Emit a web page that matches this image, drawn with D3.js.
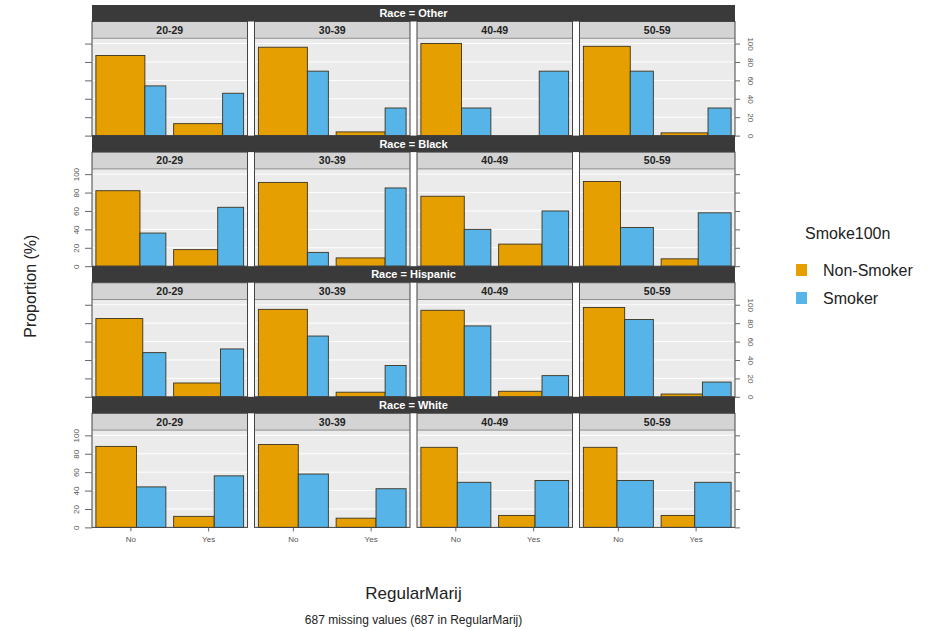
<!DOCTYPE html>
<html><head><meta charset="utf-8">
<script src="https://cdn.jsdelivr.net/npm/d3@7"></script>
<style>body{margin:0;background:#fff}svg{display:block}</style>
</head><body>
<script>
// ---- data ----
const races = ["Other", "Black", "Hispanic", "White"];
const ages = ["20-29", "30-39", "40-49", "50-59"];
const marij = ["No", "Yes"];
const smokeGroups = ["Non-Smoker", "Smoker"];
// proportion (%) of each smoke group answering No / Yes, per race (rows) x age (cols)
const nonSmokerNo  = [[87, 96, 100, 97], [82, 91, 76, 92], [85, 95, 94, 97], [88, 90, 87, 87]];
const nonSmokerYes = [[13, 4, 0, 3],     [18, 9, 24, 8],   [15, 5, 6, 3],    [12, 10, 13, 13]];
const smokerNo     = [[54, 70, 30, 70],  [36, 15, 40, 42], [48, 66, 77, 84], [44, 58, 49, 51]];
const smokerYes    = [[46, 30, 70, 30],  [64, 85, 60, 58], [52, 34, 23, 16], [56, 42, 51, 49]];
// relative share of the Non-Smoker group in each panel (drives bar width)
const nonSmokerShare = [[0.70, 0.70, 0.58, 0.67], [0.63, 0.70, 0.62, 0.53], [0.67, 0.70, 0.62, 0.59], [0.58, 0.57, 0.52, 0.48]];
const yTicks = [0, 20, 40, 60, 80, 100];
const colors = ["#E69F00", "#56B4E9"];

// ---- layout ----
const W = 950, H = 631;
const FONT = "Arial, 'Liberation Sans', sans-serif";
const svg = d3.select("body").append("svg").attr("width", W).attr("height", H)
  .style("font-family", FONT);

const left = 92, right = 735, top0 = 5, rowH = 130.6, darkH = 16.5, grayH = 16.8;
const plotH = rowH - darkH - grayH;

const colScale = d3.scaleBand().domain(ages).range([left, right]).paddingInner(0.043);
const rowScale = d3.scaleBand().domain(races).range([top0, top0 + rowH * races.length]);
const xInner = d3.scaleBand().domain(marij).range([0, colScale.bandwidth()]).paddingInner(0.1).paddingOuter(0.05);
const y = d3.scaleLinear().domain([0, 105.7]).range([plotH, 0]);

races.forEach((race, ri) => {
  const rowTop = rowScale(race);
  const g = svg.append("g").attr("transform", `translate(0,${rowTop})`);
  // dark race strip
  g.append("rect").attr("x", left).attr("y", 0).attr("width", right - left).attr("height", darkH)
    .attr("fill", "#3a3a3a");
  g.append("text").attr("x", (left + right) / 2).attr("y", darkH / 2 + 4)
    .attr("text-anchor", "middle").attr("fill", "#fff").attr("font-weight", "bold")
    .attr("font-size", 11).text(`Race = ${race}`);

  ages.forEach((age, ci) => {
    const px = colScale(age), pw = colScale.bandwidth();
    const pg = g.append("g").attr("transform", `translate(${px},${darkH})`);
    // grey age strip
    pg.append("rect").attr("x", 0).attr("y", 0).attr("width", pw).attr("height", grayH)
      .attr("fill", "#d4d4d4");
    pg.append("text").attr("x", pw / 2).attr("y", grayH / 2 + 4).attr("text-anchor", "middle")
      .attr("font-weight", "bold").attr("font-size", 10.5).attr("fill", "#222").text(age);
    // plot area
    const plot = pg.append("g").attr("transform", `translate(0,${grayH})`);
    plot.append("rect").attr("width", pw).attr("height", plotH).attr("fill", "#ebebeb");
    plot.selectAll("line.grid").data(yTicks).join("line").attr("class", "grid")
      .attr("x1", 0).attr("x2", pw).attr("y1", d => y(d)).attr("y2", d => y(d))
      .attr("stroke", "#fff").attr("stroke-width", 1);

    const share = nonSmokerShare[ri][ci];
    const vals = {
      "No": [nonSmokerNo[ri][ci], smokerNo[ri][ci]],
      "Yes": [nonSmokerYes[ri][ci], smokerYes[ri][ci]]
    };
    const bars = [];
    marij.forEach(m => {
      const bx = xInner(m), bw = xInner.bandwidth();
      const wNS = bw * share, wS = bw - wNS;
      bars.push({x: bx, w: wNS, v: vals[m][0], c: colors[0]});
      bars.push({x: bx + wNS, w: wS, v: vals[m][1], c: colors[1]});
    });
    plot.selectAll("rect.bar").data(bars.filter(b => b.v > 0)).join("rect").attr("class", "bar")
      .attr("x", d => d.x).attr("width", d => d.w)
      .attr("y", d => y(d.v)).attr("height", d => y(0) - y(d.v))
      .attr("fill", d => d.c).attr("stroke", "#3b3320").attr("stroke-width", 0.9);

    // panel border
    pg.append("rect").attr("x", 0).attr("y", 0).attr("width", pw).attr("height", grayH + plotH)
      .attr("fill", "none").attr("stroke", "#444").attr("stroke-width", 1);
    pg.append("line").attr("x1", 0).attr("x2", pw).attr("y1", grayH).attr("y2", grayH)
      .attr("stroke", "#777").attr("stroke-width", 0.8);

    // bottom x axis on last row
    if (ri === races.length - 1) {
      const ax = plot.append("g").attr("transform", `translate(0,${plotH})`)
        .call(d3.axisBottom(xInner).tickSize(4).tickPadding(5));
      ax.select(".domain").remove();
      ax.selectAll("line").attr("stroke", "#666");
      ax.selectAll("text").attr("font-size", 8).attr("fill", "#555").attr("font-family", FONT);
    }
  });

  // y axes: labelled side alternates between rows
  const labelLeft = (ri % 2 === 1);
  const ay = g.append("g").attr("transform", `translate(0,${darkH + grayH})`);
  const leftAx = ay.append("g").attr("transform", `translate(${left},0)`)
    .call(d3.axisLeft(y).tickValues(yTicks).tickSize(7).tickFormat(labelLeft ? d3.format("d") : () => ""));
  const rightAx = ay.append("g").attr("transform", `translate(${right},0)`)
    .call(d3.axisRight(y).tickValues(yTicks).tickSize(5).tickFormat(labelLeft ? () => "" : d3.format("d")));
  [leftAx, rightAx].forEach(a => {
    a.select(".domain").remove();
    a.selectAll("line").attr("stroke", "#666");
  });
  leftAx.selectAll(".tick text").attr("font-size", 8).attr("fill", "#555").attr("font-family", FONT)
    .attr("text-anchor", "middle").attr("dy", "0").attr("x", null)
    .attr("transform", "translate(-13,0) rotate(-90)").attr("y", 0);
  rightAx.selectAll(".tick text").attr("font-size", 8).attr("fill", "#555").attr("font-family", FONT)
    .attr("text-anchor", "middle").attr("dy", "0").attr("x", null)
    .attr("transform", "translate(13,0) rotate(90)").attr("y", 0);
});

// axis titles
svg.append("text").attr("transform", `translate(36,${(top0 + top0 + rowH * 4) / 2 + 20}) rotate(-90)`)
  .attr("text-anchor", "middle").attr("font-size", 16).attr("fill", "#222").text("Proportion (%)");
svg.append("text").attr("x", (left + right) / 2).attr("y", 599).attr("text-anchor", "middle")
  .attr("font-size", 17).attr("fill", "#222").text("RegularMarij");
svg.append("text").attr("x", (left + right) / 2).attr("y", 624).attr("text-anchor", "middle")
  .attr("font-size", 12).attr("fill", "#222").text("687 missing values (687 in RegularMarij)");

// legend
const lg = svg.append("g").attr("transform", "translate(796,0)");
lg.append("text").attr("x", 9).attr("y", 239).attr("font-size", 16).attr("fill", "#222").text("Smoke100n");
smokeGroups.forEach((s, i) => {
  lg.append("rect").attr("x", 0).attr("y", 264 + i * 28).attr("width", 11).attr("height", 12).attr("fill", colors[i]);
  lg.append("text").attr("x", 27).attr("y", 276 + i * 28).attr("font-size", 16).attr("fill", "#222").text(s);
});
</script>
</body></html>
